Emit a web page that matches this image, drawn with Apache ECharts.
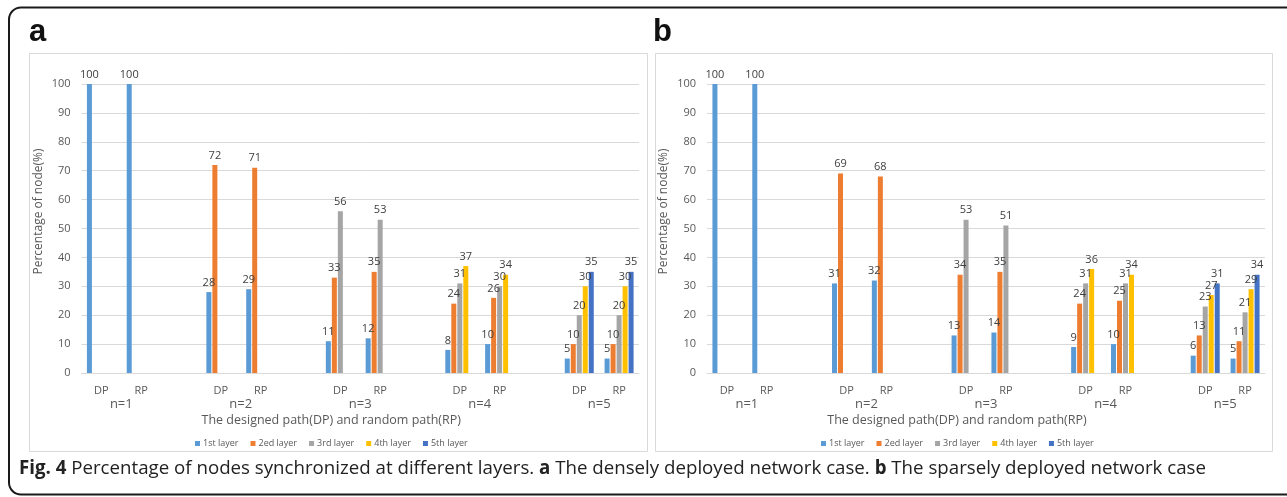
<!DOCTYPE html>
<html>
<head>
<meta charset="utf-8">
<script src="https://cdn.jsdelivr.net/npm/echarts@6/dist/echarts.min.js"></script>
<style>
html,body{margin:0;padding:0;background:#fff;}
#c{width:1287px;height:497px;}
</style>
</head>
<body>
<div id="c"></div>
<script>
// ---- data ----
const categories = ['DP','RP','','DP','RP','','DP','RP','','DP','RP','','DP','RP'];
const groupLabels = ['','n=1','','','n=2','','','n=3','','','n=4','','','n=5',''];
const layerNames = ['1st layer','2ed layer','3rd layer','4th layer','5th layer'];
const yAxisTitle = 'Percentage of node(%)';
const xAxisTitle = 'The designed path(DP) and random path(RP)';

// (a) densely deployed network
const denseL1 = [100,100,null,28,29,null,11,12,null,8,10,null,5,5];
const denseL2 = [null,null,null,72,71,null,33,35,null,24,26,null,10,10];
const denseL3 = [null,null,null,null,null,null,56,53,null,31,30,null,20,20];
const denseL4 = [null,null,null,null,null,null,null,null,null,37,34,null,30,30];
const denseL5 = [null,null,null,null,null,null,null,null,null,null,null,null,35,35];

// (b) sparsely deployed network
const sparseL1 = [100,100,null,31,32,null,13,14,null,9,10,null,6,5];
const sparseL2 = [null,null,null,69,68,null,34,35,null,24,25,null,13,11];
const sparseL3 = [null,null,null,null,null,null,53,51,null,31,31,null,23,21];
const sparseL4 = [null,null,null,null,null,null,null,null,null,36,34,null,27,29];
const sparseL5 = [null,null,null,null,null,null,null,null,null,null,null,null,31,34];

const layerColors = ['#5B9BD5','#ED7D31','#A5A5A5','#FFC000','#4472C4'];

const panels = [
  {layers:[denseL1,denseL2,denseL3,denseL4,denseL5], grid:{left:81.5, top:84, width:557.5, height:289}, legendLeft:190},
  {layers:[sparseL1,sparseL2,sparseL3,sparseL4,sparseL5], grid:{left:707, top:84, width:558, height:289}, legendLeft:816}
];

const FONT = '"Open Sans", "Noto Sans", sans-serif';
const grids = [], xAxes = [], yAxes = [], series = [], legends = [];
panels.forEach((p, i) => {
  grids.push(p.grid);
  xAxes.push({
    type:'category', gridIndex:i, data:categories, position:'bottom',
    axisLine:{show:true, lineStyle:{color:'#D9D9D9', width:1}},
    axisTick:{show:false},
    axisLabel:{interval:0, margin:12, fontSize:11, color:'#595959', fontFamily:FONT},
    name:xAxisTitle, nameLocation:'middle', nameGap:41,
    nameTextStyle:{fontSize:12.5, color:'#595959', fontFamily:FONT, padding:[0,58,0,0]}
  });
  xAxes.push({
    type:'category', gridIndex:i, data:groupLabels, position:'bottom', offset:0,
    boundaryGap:false,
    axisLine:{show:false}, axisTick:{show:false}, splitLine:{show:false},
    axisLabel:{interval:0, margin:25, fontSize:13, color:'#595959', fontFamily:FONT}
  });
  yAxes.push({
    type:'value', gridIndex:i, min:0, max:100, interval:10,
    axisLine:{show:false}, axisTick:{show:false},
    splitLine:{lineStyle:{color:'#D9D9D9', width:1}},
    axisLabel:{margin:11, fontSize:11, color:'#595959', fontFamily:FONT},
    name:yAxisTitle, nameLocation:'middle', nameGap:37,
    nameTextStyle:{fontSize:12, color:'#595959', fontFamily:FONT, padding:[0,0,0,34]}
  });
  p.layers.forEach((arr, k) => {
    series.push({
      type:'bar', name:layerNames[k], xAxisIndex:i*2, yAxisIndex:i,
      data:arr, barWidth:5, barGap:'20%',
      itemStyle:{color:layerColors[k]},
      label:{show:true, position:'top', distance:4, fontSize:11, color:'#404040', fontFamily:FONT},
      animation:false
    });
  });
  legends.push({
    left:p.legendLeft, top:434, icon:'rect', itemWidth:5, itemHeight:5, itemGap:12,
    data:layerNames, selectedMode:false,
    textStyle:{fontSize:9, color:'#595959', fontFamily:FONT, padding:[0,0,0,-2]}
  });
});

const chart = echarts.init(document.getElementById('c'), null, {renderer:'canvas'});
chart.setOption({
  animation:false,
  backgroundColor:'#ffffff',
  grid:grids, xAxis:xAxes, yAxis:yAxes, series:series, legend:legends,
  graphic:[
    {type:'rect', shape:{x:9, y:7.5, width:1300, height:487, r:12}, style:{fill:'none', stroke:'#1a1a1a', lineWidth:2}, silent:true},
    {type:'rect', shape:{x:29.5, y:53.5, width:618, height:398}, style:{fill:'none', stroke:'#D9D9D9', lineWidth:1}, silent:true},
    {type:'rect', shape:{x:655.5, y:53.5, width:617, height:398}, style:{fill:'none', stroke:'#D9D9D9', lineWidth:1}, silent:true},
    {type:'text', x:29, y:48, style:{text:'a', font:'bold 31px "Liberation Sans", Arial, sans-serif', fill:'#111', textVerticalAlign:'bottom'}, silent:true},
    {type:'text', x:653, y:48, style:{text:'b', font:'bold 31px "Liberation Sans", Arial, sans-serif', fill:'#111', textVerticalAlign:'bottom'}, silent:true},
    {type:'text', x:19, y:469, style:{
      text:'{b|Fig. 4} Percentage of nodes synchronized at different layers. {b|a} The densely deployed network case. {b|b} The sparsely deployed network case',
      font:'18.7px "Open Sans", sans-serif', fill:'#222', textVerticalAlign:'middle',
      rich:{b:{fontWeight:'bold', fontSize:18.7, fontFamily:'"Open Sans", sans-serif', fill:'#222'}}
    }, silent:true}
  ]
});
</script>
</body>
</html>
